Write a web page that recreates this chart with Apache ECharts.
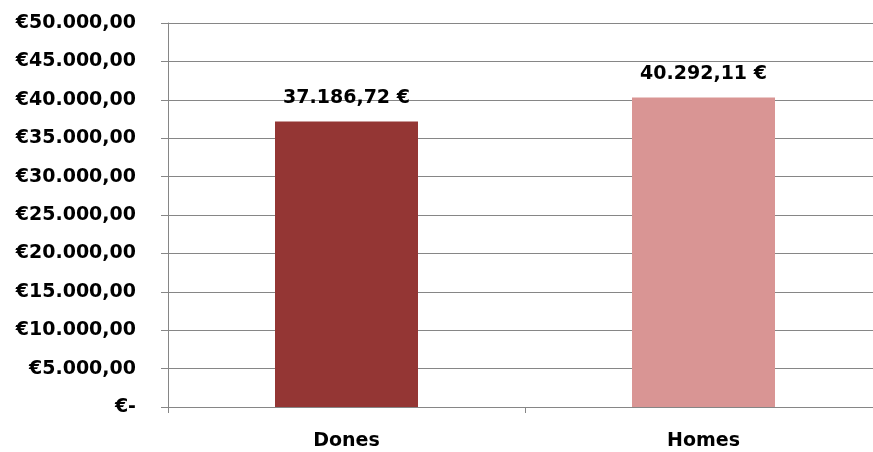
<!DOCTYPE html>
<html>
<head>
<meta charset="utf-8">
<script src="https://cdn.jsdelivr.net/npm/echarts@6/dist/echarts.min.js"></script>
<style>html,body{margin:0;padding:0;background:#fff;overflow:hidden;width:873px;height:452px;}#c{width:882px;height:452px;}</style>
</head>
<body>
<div id="c"></div>
<script>
const categories = ["Dones", "Homes"];
const values = [37186.72, 40292.11];
const colors = ["#943634", "#D99594"];
const yMin = 0, yMax = 50000, yStep = 5000;

function fmtNum(v, dec) {
  const parts = v.toFixed(dec).split(".");
  const intPart = parts[0].replace(/\B(?=(\d{3})+(?!\d))/g, ".");
  return dec ? intPart + "," + parts[1] : intPart;
}
const FONT = "DejaVu Sans";
const FS = 19;
const chart = echarts.init(document.getElementById("c"));
chart.setOption({
  animation: false,
  grid: { left: 168, top: 23, right: 0, bottom: 45, containLabel: false },
  xAxis: {
    type: "category",
    data: categories,
    axisLine: { lineStyle: { color: "#868686", width: 1 } },
    axisTick: { show: true, length: 6, alignWithLabel: false, lineStyle: { color: "#868686" } },
    axisLabel: { color: "#000", fontFamily: FONT, fontWeight: "bold", fontSize: FS, margin: 25 }
  },
  yAxis: {
    type: "value",
    min: yMin, max: yMax, interval: yStep,
    axisLine: { show: true, lineStyle: { color: "#868686", width: 1 } },
    axisTick: { show: true, length: 7, lineStyle: { color: "#868686" } },
    splitLine: { lineStyle: { color: "#868686", width: 1 } },
    axisLabel: {
      color: "#000", fontFamily: FONT, fontWeight: "bold", fontSize: FS, margin: 32,
      formatter: v => v === 0 ? "€-" : "€" + fmtNum(v, 2)
    }
  },
  series: [{
    type: "bar",
    barWidth: 143,
    data: values.map((v, i) => ({ value: v, itemStyle: { color: colors[i] } })),
    label: {
      show: true, position: "top", distance: 14,
      color: "#000", fontFamily: FONT, fontWeight: "bold", fontSize: FS,
      formatter: p => fmtNum(p.value, 2) + " €"
    }
  }]
});
</script>
</body>
</html>
